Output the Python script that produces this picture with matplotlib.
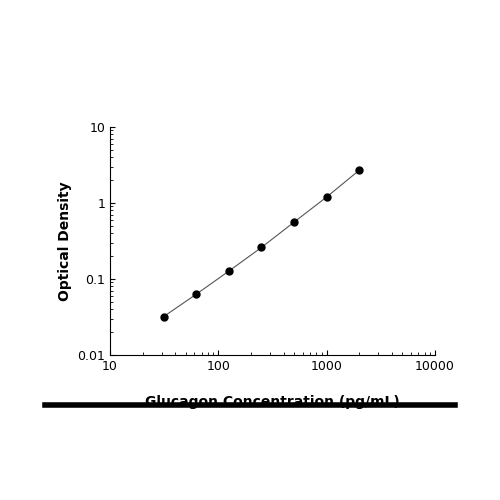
import matplotlib
matplotlib.use("Agg")
import matplotlib.pyplot as plt
from matplotlib.lines import Line2D

conc = [31.25, 62.5, 125, 250, 500, 1000, 2000]
od = [0.032, 0.063, 0.127, 0.26, 0.56, 1.2, 2.7]

fig = plt.figure(figsize=(5, 5), dpi=100)
ax = fig.add_axes([0.22, 0.29, 0.65, 0.456])
ax.plot(conc, od, color='#555555', lw=0.8, marker='o', ms=5, mfc='black', mec='black')
ax.set_xscale('log'); ax.set_yscale('log')
ax.set_xlim(10, 10000); ax.set_ylim(0.01, 10)
ax.set_xticks([10, 100, 1000, 10000]); ax.set_xticklabels(['10', '100', '1000', '10000'])
ax.set_yticks([0.01, 0.1, 1, 10]); ax.set_yticklabels(['0.01', '0.1', '1', '10'])
for s in ['top', 'right']:
    ax.spines[s].set_visible(False)
ax.tick_params(labelsize=9, direction='in', which='both')
ax.set_ylabel('Optical Density', fontsize=10, fontweight='bold')
ax.set_xlabel('Glucagon Concentration (pg/mL)', fontsize=10, fontweight='bold', labelpad=16)
fig.add_artist(Line2D([0.09, 0.91], [0.19, 0.19], color='black', lw=4, transform=fig.transFigure))
fig.savefig('out.png')
